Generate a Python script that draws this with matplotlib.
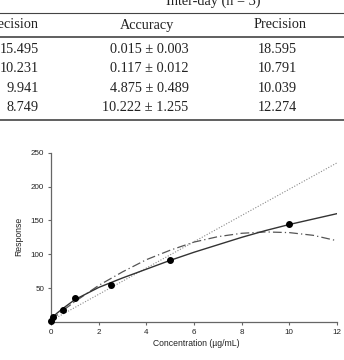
import matplotlib
matplotlib.use("Agg")
import matplotlib.pyplot as plt
from matplotlib.lines import Line2D

# table data (cropped scan of a validation table)
table_header = ["Precision", "Accuracy", "Precision"]
col1 = ["15.495", "10.231", "9.941", "8.749"]
acc_mean = ["0.015", "0.117", "4.875", "10.222"]
acc_sd = ["0.003", "0.012", "0.489", "1.255"]
col3 = ["18.595", "10.791", "10.039", "12.274"]

# calibration data
conc = [0.01, 0.1, 0.5, 1, 2.5, 5, 10]
response = [1.5, 8, 18, 35, 55, 91, 145]

# fitted curves
solid_x = [0, 0.1, 0.25, 0.5, 1, 1.5, 2, 3, 4, 5, 6, 7, 8, 9, 10, 11, 12]
solid_y = [1, 8, 13, 20, 33, 42, 51, 65, 78, 91, 103, 114, 125, 135, 144, 152, 160]
dashdot_x = [0, 0.5, 1, 1.5, 2, 3, 4, 5, 6, 7, 8, 9, 10, 11, 12]
dashdot_y = [3, 17, 30, 42, 54, 74, 92, 106, 118, 126, 131, 133, 132, 128, 120]
dotted_x = [0, 12]
dotted_y = [2, 235]

W, H = 344, 360
fig = plt.figure(figsize=(W / 100, H / 100), dpi=100)


def fy(px):
    return 1 - px / H


def fx(px):
    return px / W


serif = "Liberation Serif"
tc = "#222222"
fs = 10.3

# table
fig.text(fx(213), fy(1), "Inter-day (n = 3)", family=serif, fontsize=fs,
         color=tc, ha="center", va="center")
for ypx, lw in [(13.3, 0.8), (36.7, 1.2), (120, 1.2)]:
    fig.add_artist(Line2D([0, 1], [fy(ypx), fy(ypx)], transform=fig.transFigure,
                          color="#444444", lw=lw))

fig.text(fx(39), fy(25), table_header[0], family=serif, fontsize=fs, color=tc,
         ha="right", va="center")
fig.text(fx(147), fy(25), table_header[1], family=serif, fontsize=fs, color=tc,
         ha="center", va="center")
fig.text(fx(280), fy(25), table_header[2], family=serif, fontsize=fs, color=tc,
         ha="center", va="center")

row_y = [49.3, 69, 88.3, 107.3]
for i, ypx in enumerate(row_y):
    fig.text(fx(38.5), fy(ypx), col1[i], family=serif, fontsize=fs, color=tc,
             ha="right", va="center")
    fig.text(fx(188.5), fy(ypx), acc_mean[i] + " \u00b1 " + acc_sd[i], family=serif,
             fontsize=fs, color=tc, ha="right", va="center")
    fig.text(fx(277), fy(ypx), col3[i], family=serif, fontsize=fs, color=tc,
             ha="center", va="center")

# chart
ax = fig.add_axes([fx(51), fy(322), fx(337) - fx(51), fy(152.7) - fy(322)])
ax.plot(dotted_x, dotted_y, color="#8a8a8a", lw=0.8, ls=(0, (1, 1.5)))
ax.plot(dashdot_x, dashdot_y, color="#555555", lw=0.9, ls=(0, (7, 2.5, 1, 2.5)))
ax.plot(solid_x, solid_y, color="#333333", lw=1.0)
ax.plot(conc, response, "o", color="black", ms=4, clip_on=False, zorder=5)

ax.set_xlim(0, 12)
ax.set_ylim(0, 250)
ax.set_xticks(range(0, 13, 2))
ax.set_yticks([50, 100, 150, 200, 250])
for s in ["top", "right"]:
    ax.spines[s].set_visible(False)
for s in ["left", "bottom"]:
    ax.spines[s].set_color("#666666")
    ax.spines[s].set_linewidth(0.9)
ax.tick_params(length=2, width=0.8, color="#666666", labelsize=5.8, pad=3,
               labelcolor="#222222")
for lab in ax.get_xticklabels() + ax.get_yticklabels():
    lab.set_family("Liberation Sans")

fig.text(fx(18.3), fy(236.7), "Response", family="Liberation Sans", fontsize=6.2,
         color="#222222", rotation=90, ha="center", va="center")
fig.text(fx(196), fy(343), "Concentration (\u00b5g/mL)", family="Liberation Sans",
         fontsize=6.2, color="#222222", ha="center", va="center")

fig.savefig("out.png", dpi=100)
